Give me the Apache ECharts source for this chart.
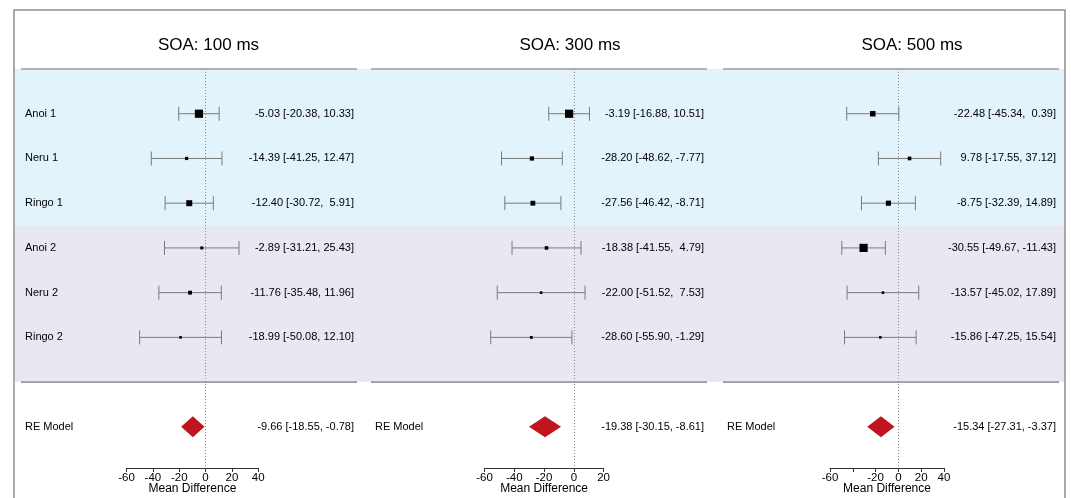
<!DOCTYPE html>
<html>
<head>
<meta charset="utf-8">
<script src="https://cdn.jsdelivr.net/npm/echarts@6/dist/echarts.min.js"></script>
<style>
  html, body { margin: 0; padding: 0; background: #ffffff; }
  #chart { width: 1071px; height: 498px; }
</style>
</head>
<body>
<div id="chart"></div>
<script>
// ---- data -------------------------------------------------------------
const studies = ['Anoi 1', 'Neru 1', 'Ringo 1', 'Anoi 2', 'Neru 2', 'Ringo 2'];
const pooledLabel = 'RE Model';
const panelTitles = ['SOA: 100 ms', 'SOA: 300 ms', 'SOA: 500 ms'];

const est100   = [-5.03, -14.39, -12.40, -2.89, -11.76, -18.99];
const lower100 = [-20.38, -41.25, -30.72, -31.21, -35.48, -50.08];
const upper100 = [10.33, 12.47, 5.91, 25.43, 11.96, 12.10];
const pooled100 = [-9.66, -18.55, -0.78];   // estimate, lower, upper

const est300   = [-3.19, -28.20, -27.56, -18.38, -22.00, -28.60];
const lower300 = [-16.88, -48.62, -46.42, -41.55, -51.52, -55.90];
const upper300 = [10.51, -7.77, -8.71, 4.79, 7.53, -1.29];
const pooled300 = [-19.38, -30.15, -8.61];

const est500   = [-22.48, 9.78, -8.75, -30.55, -13.57, -15.86];
const lower500 = [-45.34, -17.55, -32.39, -49.67, -45.02, -47.25];
const upper500 = [0.39, 37.12, 14.89, -11.43, 17.89, 15.54];
const pooled500 = [-15.34, -27.31, -3.37];

const ticks100 = [-60, -40, -20, 0, 20, 40];
const ticks300 = [-60, -40, -20, 0, 20];
const ticks500 = [-60, -40, -20, 0, 20, 40];
const tickLabels100 = ['-60', '-40', '-20', '0', '20', '40'];
const tickLabels300 = ['-60', '-40', '-20', '0', '20'];
const tickLabels500 = ['-60', '', '-20', '0', '20', '40'];

const axisTitle = 'Mean Difference';

// ---- layout & style ---------------------------------------------------
const FONT = '"Liberation Sans", Arial, Helvetica, sans-serif';
const PLOT_TOP = 69, PLOT_H = 399;          // shared vertical extent (row scale)
const ROW_MAX = 8.92;                       // row units covered by PLOT_H
const POOLED_ROW = 8;
const GROUP_BANDS = [                       // row extents of the two study groups
  { from: 0, to: 3.5, color: '#E3F3FB' },
  { from: 3.5, to: 7, color: '#E8E8F2' }
];
const RULE_ROWS = [0, 7];

const panels = [
  { est: est100, lo: lower100, hi: upper100, pooled: pooled100, ticks: ticks100, tickLabels: tickLabels100,
    plotLeft: 126.6, plotWidth: 131.6, frameLeft: 21, titleX: 208.5, showStudyNames: true },
  { est: est300, lo: lower300, hi: upper300, pooled: pooled300, ticks: ticks300, tickLabels: tickLabels300,
    plotLeft: 484.6, plotWidth: 119, frameLeft: 371, titleX: 570, showStudyNames: false },
  { est: est500, lo: lower500, hi: upper500, pooled: pooled500, ticks: ticks500, tickLabels: tickLabels500,
    plotLeft: 830, plotWidth: 114, frameLeft: 723, titleX: 912, showStudyNames: false }
];
const FRAME_W = 336;

function fmt(v) { return v.toFixed(2).padStart(5, ' '); }
function annot(e, l, u) { return fmt(e) + ' [' + fmt(l) + ', ' + fmt(u) + ']'; }

// square side grows linearly with inverse-variance weight (from CI width)
function squareSizes(lo, hi) {
  const w = lo.map((l, i) => 1 / Math.pow(hi[i] - l, 2));
  const mn = Math.min(...w), mx = Math.max(...w);
  return w.map(v => 2.6 + (v - mn) / (mx - mn) * 5.6);
}

const grids = [], xAxes = [], yAxes = [], series = [];
const yAxisDef = () => ({ type: 'value', min: 0, max: ROW_MAX, inverse: true, show: false });
const gridDef = (left, width) => ({
  left: left, width: width, top: PLOT_TOP, height: PLOT_H,
  containLabel: false, outerBoundsMode: 'none'
});

// background grid for the group bands
grids.push(gridDef(15, 1050));
xAxes.push({ type: 'value', min: 0, max: 1, show: false, gridIndex: 0 });
yAxes.push(Object.assign(yAxisDef(), { gridIndex: 0 }));
series.push({
  type: 'custom', xAxisIndex: 0, yAxisIndex: 0, z: 0, silent: true,
  data: GROUP_BANDS.map(b => [b.from, b.to]),
  renderItem: function (params, api) {
    const a = api.coord([0, api.value(0)]);
    const b = api.coord([1, api.value(1)]);
    return { type: 'rect', shape: { x: a[0], y: a[1], width: b[0] - a[0], height: b[1] - a[1] },
             style: { fill: GROUP_BANDS[params.dataIndex].color } };
  }
});

panels.forEach((p, k) => {
  // frame grid: rules + text columns
  const fg = grids.length;
  grids.push(gridDef(p.frameLeft, FRAME_W));
  xAxes.push({ type: 'value', min: 0, max: 1, show: false, gridIndex: fg });
  yAxes.push(Object.assign(yAxisDef(), { gridIndex: fg }));

  series.push({
    type: 'custom', xAxisIndex: fg, yAxisIndex: fg, z: 3, silent: true,
    data: RULE_ROWS.map(r => [r]),
    renderItem: function (params, api) {
      const a = api.coord([0, api.value(0)]);
      const b = api.coord([1, api.value(0)]);
      return { type: 'line', shape: { x1: a[0], y1: a[1], x2: b[0], y2: b[1] },
               style: { stroke: '#9a9a9a', lineWidth: 1.6 } };
    }
  });

  const textRows = studies.map((name, i) => ({
    row: i + 1, name: p.showStudyNames ? name : '', note: annot(p.est[i], p.lo[i], p.hi[i])
  }));
  textRows.push({ row: POOLED_ROW, name: pooledLabel, note: annot(p.pooled[0], p.pooled[1], p.pooled[2]) });

  series.push({
    type: 'custom', xAxisIndex: fg, yAxisIndex: fg, z: 5, silent: true,
    data: textRows.map(t => [t.row]),
    renderItem: function (params, api) {
      const t = textRows[params.dataIndex];
      const a = api.coord([0, api.value(0)]);
      const b = api.coord([1, api.value(0)]);
      const base = { fill: '#000', font: '11px ' + FONT, verticalAlign: 'middle', textVerticalAlign: 'middle' };
      return { type: 'group', children: [
        { type: 'text', style: Object.assign({}, base, { text: t.name, x: a[0] + 4, y: a[1], align: 'left', textAlign: 'left' }) },
        { type: 'text', style: Object.assign({}, base, { text: t.note, x: b[0] - 3, y: b[1], align: 'right', textAlign: 'right' }) }
      ] };
    }
  });

  // data grid: estimates on the Mean Difference scale
  const dg = grids.length;
  grids.push(gridDef(p.plotLeft, p.plotWidth));
  const tmin = p.ticks[0], tmax = p.ticks[p.ticks.length - 1];
  xAxes.push({
    type: 'value', gridIndex: dg, min: tmin, max: tmax, interval: 20,
    splitLine: { show: false },
    axisLine: { show: true, onZero: false, lineStyle: { color: '#333', width: 1 } },
    axisTick: { show: true, length: 4, lineStyle: { color: '#333', width: 1 } },
    axisLabel: {
      margin: 4, color: '#000', fontSize: 11.5, fontFamily: FONT,
      formatter: v => { const i = p.ticks.indexOf(v); return i >= 0 ? p.tickLabels[i] : ''; }
    },
    name: axisTitle, nameLocation: 'middle', nameGap: 15, nameMoveOverlap: false,
    nameTextStyle: { color: '#000', fontSize: 12, fontFamily: FONT }
  });
  yAxes.push(Object.assign(yAxisDef(), { gridIndex: dg }));

  const sizes = squareSizes(p.lo, p.hi);
  series.push({
    type: 'custom', xAxisIndex: dg, yAxisIndex: dg, z: 6, silent: true,
    data: p.est.map((e, i) => [e, p.lo[i], p.hi[i], i + 1, sizes[i]]),
    encode: { x: [0, 1, 2], y: 3 },
    renderItem: function (params, api) {
      const row = api.value(3);
      const lo = api.coord([api.value(1), row]);
      const hi = api.coord([api.value(2), row]);
      const c = api.coord([api.value(0), row]);
      const s = api.value(4);
      const cap = 7;
      const stroke = { stroke: '#7a7a7a', lineWidth: 1 };
      return { type: 'group', children: [
        { type: 'line', shape: { x1: lo[0], y1: lo[1], x2: hi[0], y2: hi[1] }, style: stroke },
        { type: 'line', shape: { x1: lo[0], y1: lo[1] - cap, x2: lo[0], y2: lo[1] + cap }, style: stroke },
        { type: 'line', shape: { x1: hi[0], y1: hi[1] - cap, x2: hi[0], y2: hi[1] + cap }, style: stroke },
        { type: 'rect', shape: { x: c[0] - s / 2, y: c[1] - s / 2, width: s, height: s }, style: { fill: '#000' } }
      ] };
    },
    markLine: {
      silent: true, symbol: 'none', animation: false,
      label: { show: false },
      lineStyle: { type: [1, 2], color: '#8a8a8a', width: 1 },
      data: [{ xAxis: 0 }]
    }
  });

  // pooled random-effects estimate as a diamond
  series.push({
    type: 'custom', xAxisIndex: dg, yAxisIndex: dg, z: 7, silent: true,
    data: [[p.pooled[0], p.pooled[1], p.pooled[2], POOLED_ROW]],
    encode: { x: [0, 1, 2], y: 3 },
    renderItem: function (params, api) {
      const row = api.value(3);
      const l = api.coord([api.value(1), row]);
      const c = api.coord([api.value(0), row]);
      const u = api.coord([api.value(2), row]);
      const h = 10.5;
      return { type: 'polygon',
               shape: { points: [[l[0], l[1]], [c[0], c[1] - h], [u[0], u[1]], [c[0], c[1] + h]] },
               style: { fill: '#C0141E' } };
    }
  });
});

const graphics = panelTitles.map((t, k) => ({
  type: 'text', z: 10,
  style: { text: t, x: panels[k].titleX, y: 45, font: '17px ' + FONT, fill: '#000',
           align: 'center', verticalAlign: 'middle', textAlign: 'center', textVerticalAlign: 'middle' }
}));
graphics.push({
  type: 'rect', z: 100, silent: true,
  shape: { x: 14, y: 10, width: 1051, height: 520 },
  style: { fill: 'none', stroke: '#8f8f8f', lineWidth: 1.5 }
});

const chart = echarts.init(document.getElementById('chart'), null, { renderer: 'canvas' });
chart.setOption({
  animation: false,
  backgroundColor: '#ffffff',
  grid: grids,
  xAxis: xAxes,
  yAxis: yAxes,
  series: series,
  graphic: graphics
});
</script>
</body>
</html>
